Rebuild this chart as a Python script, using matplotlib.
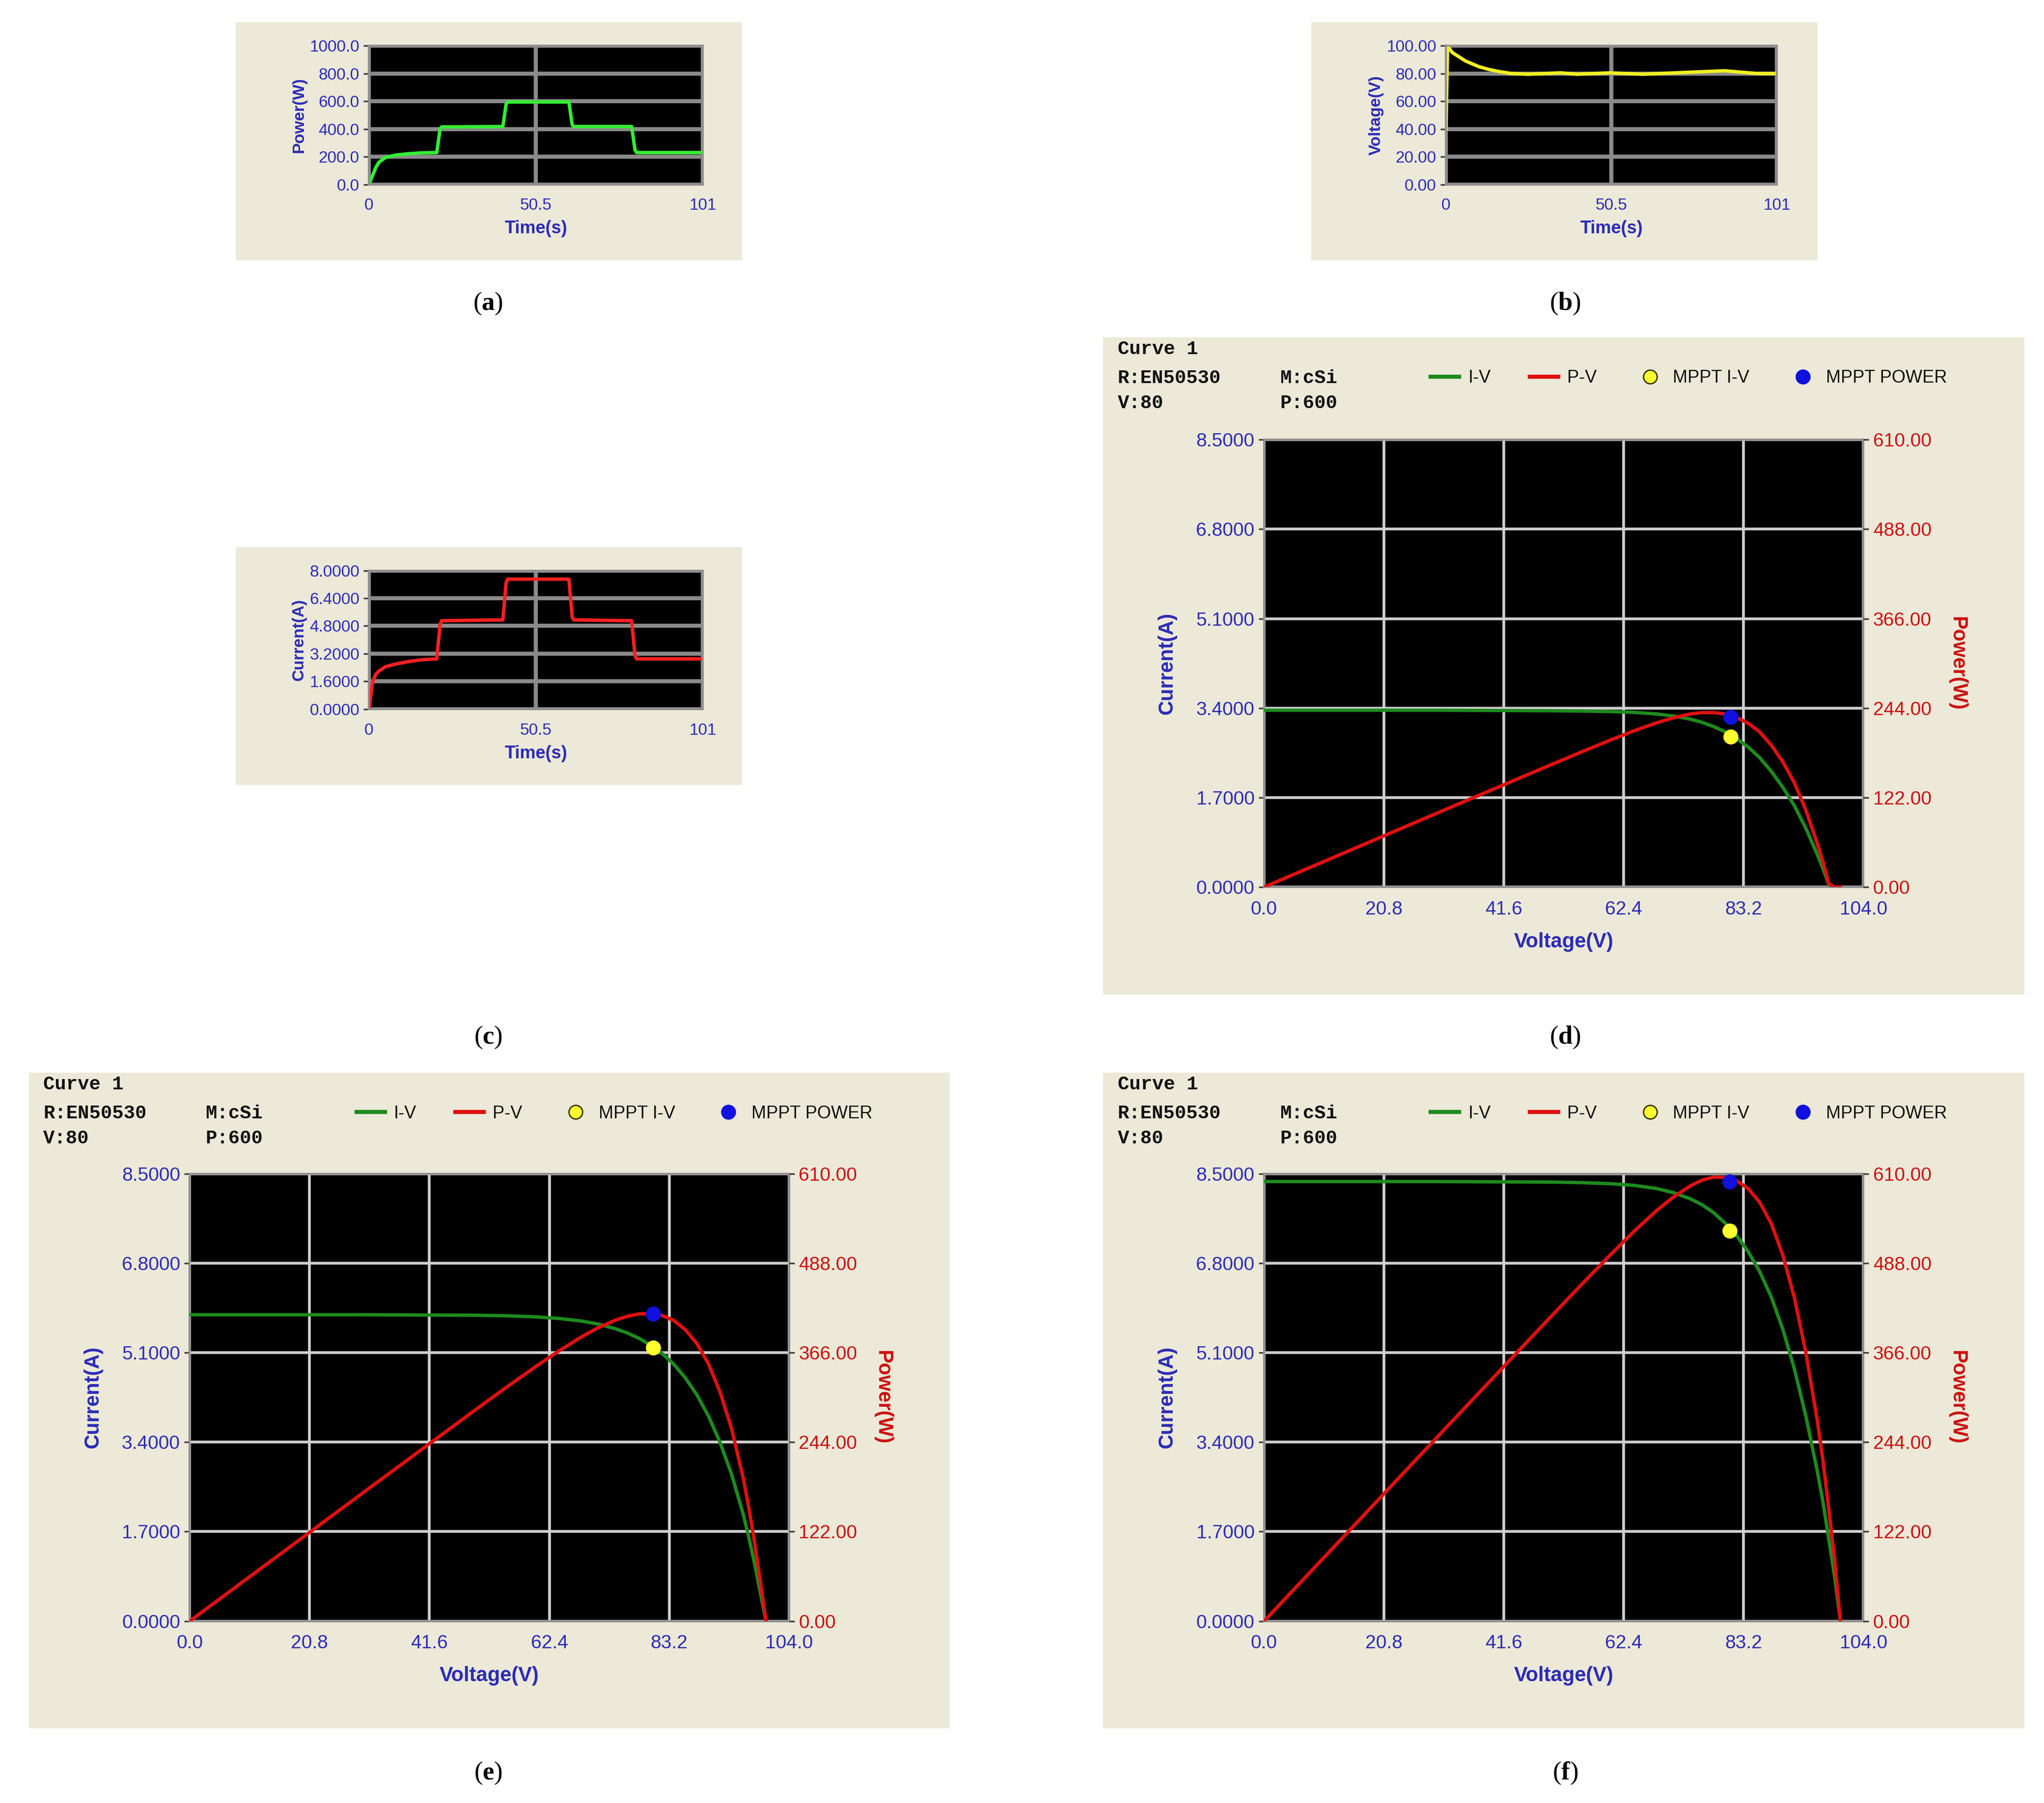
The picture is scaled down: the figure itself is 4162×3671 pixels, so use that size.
import matplotlib
matplotlib.use("Agg")
import matplotlib.pyplot as plt
import numpy as np
from matplotlib.lines import Line2D

plt.rcParams["mathtext.fontset"] = "custom"
plt.rcParams["mathtext.rm"] = "Liberation Serif"
plt.rcParams["mathtext.bf"] = "Liberation Serif:bold"

# ---------------- data ----------------
t_power = [0, 1, 2, 3, 5, 8, 12, 16, 20.5, 21.5, 22, 40.5, 41.5, 42, 60.5, 61.5, 62, 79.5, 80.5, 81, 101]
p_power = [0, 60, 120, 160, 195, 212, 222, 228, 230, 400, 415, 418, 580, 595, 595, 430, 418, 418, 250, 230, 230]

t_volt = [0, 0.5, 1, 2, 4, 6, 8, 10, 13, 16, 20, 25, 30, 35, 40, 45, 50, 55, 60, 65, 70, 75, 80, 85, 90, 95, 101]
v_volt = [40, 100, 98, 95, 92, 89, 87, 85, 83, 81.5, 80, 79.5, 80, 80.5, 79.5, 80, 80.5, 80, 79.5, 80, 80.5, 81, 81.5, 82, 81, 80, 80]

t_curr = [0, 1, 2, 3, 5, 8, 12, 16, 20.5, 21.5, 22, 40.5, 41.5, 42, 60.5, 61.5, 62, 79.5, 80.5, 81, 101]
i_curr = [0, 1.5, 2.0, 2.2, 2.45, 2.6, 2.75, 2.85, 2.9, 4.9, 5.1, 5.15, 7.3, 7.5, 7.5, 5.3, 5.15, 5.1, 3.1, 2.9, 2.9]

iv_voltage = [0, 10, 20, 30, 40, 50, 55, 60, 64, 68, 71, 74, 76, 78, 80, 82, 84, 86, 88, 90, 92, 94, 96, 97, 98, 99, 100]
iv_current_d = [3.36, 3.36, 3.36, 3.36, 3.355, 3.35, 3.345, 3.335, 3.32, 3.29, 3.25, 3.19, 3.13, 3.05, 2.95, 2.82, 2.66, 2.46, 2.2, 1.9, 1.55, 1.12, 0.62, 0.35, 0.05, 0.0, 0.0]
iv_current_e = [5.82, 5.82, 5.82, 5.82, 5.815, 5.81, 5.80, 5.78, 5.75, 5.70, 5.64, 5.55, 5.47, 5.37, 5.24, 5.08, 4.88, 4.62, 4.30, 3.90, 3.40, 2.80, 2.05, 1.60, 1.10, 0.55, 0.0]
iv_current_f = [8.35, 8.35, 8.35, 8.35, 8.345, 8.34, 8.33, 8.31, 8.28, 8.22, 8.14, 8.02, 7.91, 7.76, 7.56, 7.32, 7.02, 6.64, 6.16, 5.55, 4.80, 3.90, 2.85, 2.25, 1.55, 0.85, 0.0]

mppt_v = [81.0, 80.4, 80.8]
mppt_i = [2.86, 5.19, 7.41]
mppt_p = [232, 419, 599]

# ---------------- style ----------------
BG = "#ECE9D8"
BLUE = "#2B2BB8"
RED = "#CC1010"
W, H = 1562.0, 1378.0
TICKF = "Liberation Sans"

fig = plt.figure(figsize=(41.62 / 2, 36.71 / 2), dpi=200)
fig.patch.set_facecolor("white")


def rect(x0, y0, x1, y1):
    return [x0 / W, 1 - y1 / H, (x1 - x0) / W, (y1 - y0) / H]


def bgpanel(x0, y0, x1, y1):
    a = fig.add_axes(rect(x0, y0, x1, y1), zorder=0)
    a.set_facecolor(BG)
    a.set_xticks([]); a.set_yticks([])
    for s in a.spines.values():
        s.set_visible(False)
    return a


def style_ax(ax, gridc, glw):
    ax.set_facecolor("black")
    for s in ax.spines.values():
        s.set_color("#909090")
        s.set_linewidth(1.5)
    ax.grid(True, color=gridc, linewidth=glw)
    ax.set_axisbelow(True)
    ax.tick_params(length=4, width=1.2, color="#404040", pad=3)


def small_panel(bgbox, axbox, t, y, color, yticks, fmt, ylabel):
    bgpanel(*bgbox)
    ax = fig.add_axes(rect(*axbox), zorder=1)
    style_ax(ax, "#8A8A8A", 3.0)
    ax.plot(t, y, color=color, lw=2.5)
    ax.set_xlim(0, 101)
    ax.set_ylim(yticks[0], yticks[-1])
    ax.set_xticks([0, 50.5, 101])
    ax.set_xticklabels(["0", "50.5", "101"])
    ax.set_yticks(yticks)
    ax.set_yticklabels([fmt.format(v) for v in yticks])
    for lab in ax.get_xticklabels() + ax.get_yticklabels():
        lab.set_color(BLUE); lab.set_fontfamily(TICKF); lab.set_fontsize(12)
    ax.tick_params(axis="x", length=0, pad=10)
    ax.set_xlabel("Time(s)", color=BLUE, fontfamily=TICKF, fontweight="bold", fontsize=13, labelpad=5)
    ax.set_ylabel(ylabel, color=BLUE, fontfamily=TICKF, fontweight="bold", fontsize=12, labelpad=2)
    return ax


small_panel((180, 17, 567, 199), (282, 35, 537, 141), t_power, p_power, "#33EE33",
            [0, 200, 400, 600, 800, 1000], "{:.1f}", "Power(W)")
small_panel((1002, 17, 1389, 199), (1105, 35, 1358, 141), t_volt, v_volt, "#F0F020",
            [0, 20, 40, 60, 80, 100], "{:.2f}", "Voltage(V)")
small_panel((180, 418, 567, 600), (282, 436, 537, 542), t_curr, i_curr, "#FF2020",
            [0, 1.6, 3.2, 4.8, 6.4, 8.0], "{:.4f}", "Current(A)")


def big_panel(bgbox, axbox, iv, k):
    bx0, by0 = bgbox[0], bgbox[1]
    bgpanel(*bgbox)
    ax = fig.add_axes(rect(*axbox), zorder=1)
    style_ax(ax, "#D0D0D0", 2.0)
    ax2 = ax.twinx()
    ax.set_xlim(0, 104); ax.set_ylim(0, 8.5)
    ax2.set_ylim(0, 610)
    xt = [0, 20.8, 41.6, 62.4, 83.2, 104.0]
    yt = [0, 1.7, 3.4, 5.1, 6.8, 8.5]
    pt = [0, 122, 244, 366, 488, 610]
    ax.set_xticks(xt); ax.set_xticklabels(["{:.1f}".format(v) for v in xt])
    ax.set_yticks(yt); ax.set_yticklabels(["{:.4f}".format(v) for v in yt])
    ax2.set_yticks(pt); ax2.set_yticklabels(["{:.2f}".format(v) for v in pt])
    for lab in ax.get_xticklabels() + ax.get_yticklabels():
        lab.set_color(BLUE); lab.set_fontfamily(TICKF); lab.set_fontsize(14)
    for lab in ax2.get_yticklabels():
        lab.set_color(RED); lab.set_fontfamily(TICKF); lab.set_fontsize(14)
    ax.tick_params(axis="x", length=0, pad=10)
    ax2.tick_params(length=4, width=1.2, color="#404040", pad=3)
    for s in ax2.spines.values():
        s.set_visible(False)
    ax.set_xlabel("Voltage(V)", color=BLUE, fontfamily=TICKF, fontweight="bold", fontsize=15, labelpad=10)
    ax.set_ylabel("Current(A)", color=BLUE, fontfamily=TICKF, fontweight="bold", fontsize=15, labelpad=14)
    ax2.set_ylabel("Power(W)", color=RED, fontfamily=TICKF, fontweight="bold", fontsize=15,
                   rotation=-90, labelpad=26)
    v = np.array(iv_voltage, float)
    i = np.array(iv, float)
    p = v * i
    ax.plot(v, i, color="#1E8A1E", lw=2.5, zorder=3)
    ax2.plot(v, p, color="#E01010", lw=2.5, zorder=3)
    ax.plot([mppt_v[k]], [mppt_i[k]], "o", ms=10, mfc="#FFFF30", mec="#FFFF30", zorder=5)
    ax2.plot([mppt_v[k]], [mppt_p[k]], "o", ms=10, mfc="#1010E0", mec="#1010E0", zorder=5)
    ax.set_zorder(2); ax2.set_zorder(3)
    mono = dict(fontfamily="Liberation Mono", fontweight="bold", fontsize=14, color="#111111", va="center")
    fig.text((bx0 + 11) / W, 1 - (by0 + 9) / H, "Curve 1", **mono)
    fig.text((bx0 + 11) / W, 1 - (by0 + 31) / H, "R:EN50530", **mono)
    fig.text((bx0 + 135) / W, 1 - (by0 + 31) / H, "M:cSi", **mono)
    fig.text((bx0 + 11) / W, 1 - (by0 + 50) / H, "V:80", **mono)
    fig.text((bx0 + 135) / W, 1 - (by0 + 50) / H, "P:600", **mono)
    handles = [Line2D([], [], color="#1E8A1E", lw=3),
               Line2D([], [], color="#E01010", lw=3),
               Line2D([], [], ls="none", marker="o", ms=10, mfc="#FFFF30", mec="#333300"),
               Line2D([], [], ls="none", marker="o", ms=10, mfc="#1010E0", mec="#1010E0")]
    leg = fig.legend(handles, ["I-V", "P-V", "MPPT I-V", "MPPT POWER"], ncol=4, frameon=False,
                     loc="center left", bbox_to_anchor=((bx0 + 245) / W, 1 - (by0 + 31) / H),
                     prop={"family": TICKF, "size": 13}, handlelength=1.6, handletextpad=0.5,
                     columnspacing=2.2, borderaxespad=0)
    for tx in leg.get_texts():
        tx.set_color("#111111")


big_panel((843, 258, 1547, 760), (966, 336, 1424, 678), iv_current_d, 0)
big_panel((22, 820, 726, 1321), (145, 897, 603, 1239), iv_current_e, 1)
big_panel((843, 820, 1547, 1321), (966, 897, 1424, 1239), iv_current_f, 2)

for lab, x, y in [("a", 373, 232), ("b", 1196, 232), ("c", 373, 793),
                  ("d", 1196, 793), ("e", 373, 1355), ("f", 1196, 1355)]:
    fig.text(x / W, 1 - y / H, "(" + r"$\mathbf{" + lab + "}$" + ")", fontfamily="Liberation Serif",
             fontsize=19, ha="center", va="center")

fig.savefig("out.png", dpi=200, facecolor="white")
